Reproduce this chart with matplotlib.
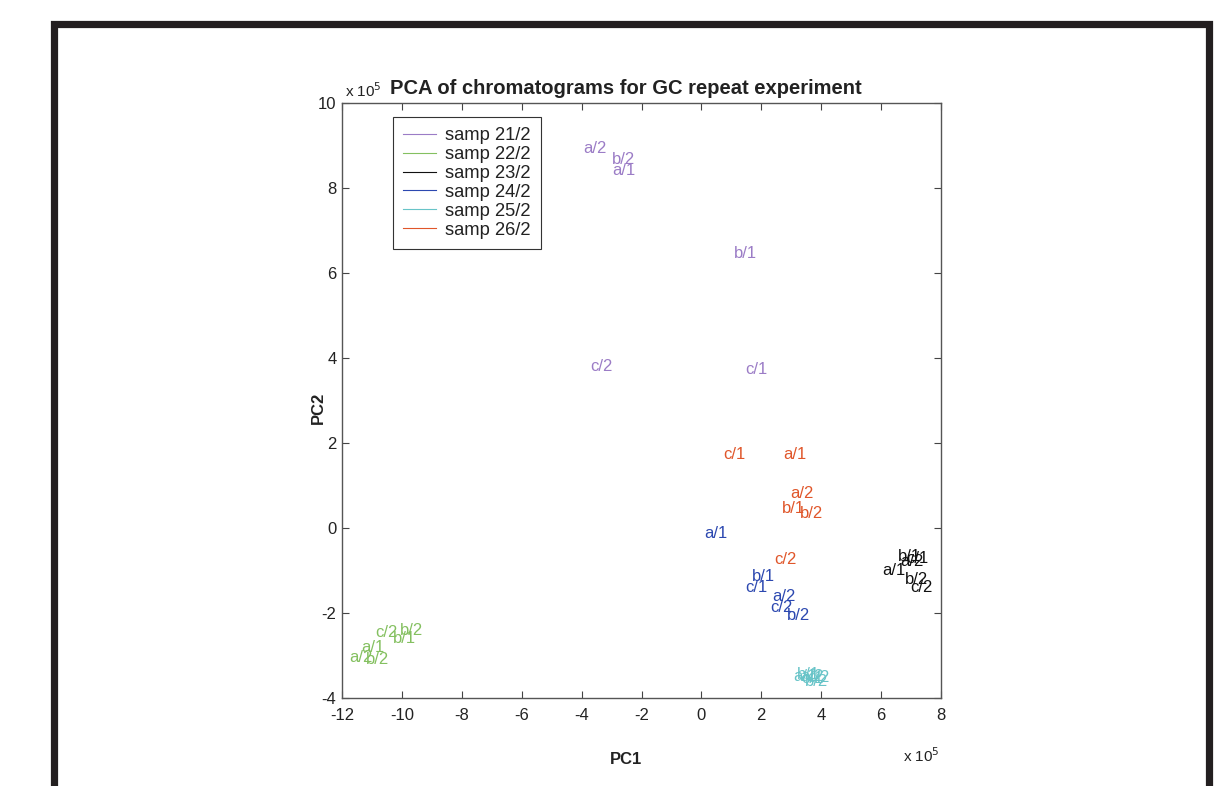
import matplotlib
matplotlib.use('Agg')
import matplotlib.pyplot as plt
from matplotlib.lines import Line2D
from matplotlib.patches import Rectangle

plt.rcParams['font.family'] = ['Liberation Sans', 'DejaVu Sans']
plt.rcParams['axes.unicode_minus'] = False

# legend entries / group colours
samples = ['samp 21/2', 'samp 22/2', 'samp 23/2', 'samp 24/2', 'samp 25/2', 'samp 26/2']
colors = ['#9b7cc6', '#84c060', '#111111', '#2c48b0', '#68c4c8', '#e0562a']

# label positions (PC1, PC2 in units of 1e5)
s21_labels = ['a/2', 'b/2', 'a/1', 'b/1', 'c/2', 'c/1']
s21_x = [-3.95, -2.98, -2.98, 1.09, -3.72, 1.46]
s21_y = [8.94, 8.66, 8.42, 6.47, 3.79, 3.74]

s22_labels = ['c/2', 'b/2', 'b/1', 'a/1', 'a/2', 'b/2']
s22_x = [-10.9, -10.05, -10.3, -11.35, -11.75, -11.2]
s22_y = [-2.45, -2.42, -2.6, -2.82, -3.05, -3.1]

s23_labels = ['a/1', 'b/1', 'a/2', 'c/1', 'b/2', 'c/2']
s23_x = [6.05, 6.56, 6.65, 6.85, 6.8, 6.97]
s23_y = [-1.0, -0.68, -0.8, -0.72, -1.22, -1.41]

s24_labels = ['a/1', 'b/1', 'c/1', 'a/2', 'c/2', 'b/2']
s24_x = [0.09, 1.69, 1.46, 2.36, 2.29, 2.86]
s24_y = [-0.14, -1.15, -1.41, -1.62, -1.88, -2.07]

s25_labels = ['a/1', 'b/1', 'c/1', 'a/2', 'b/2', 'c/2']
s25_x = [3.06, 3.2, 3.35, 3.3, 3.45, 3.55]
s25_y = [-3.5, -3.45, -3.55, -3.5, -3.6, -3.52]

s26_labels = ['c/1', 'a/1', 'a/2', 'b/1', 'b/2', 'c/2']
s26_x = [0.72, 2.72, 2.96, 2.69, 3.29, 2.42]
s26_y = [1.72, 1.72, 0.82, 0.47, 0.35, -0.75]

groups = [
    (s21_labels, s21_x, s21_y),
    (s22_labels, s22_x, s22_y),
    (s23_labels, s23_x, s23_y),
    (s24_labels, s24_x, s24_y),
    (s25_labels, s25_x, s25_y),
    (s26_labels, s26_x, s26_y),
]

xticks = list(range(-12, 9, 2))
yticks = list(range(-4, 11, 2))

fig = plt.figure(figsize=(12.28, 7.86), dpi=100)
ax = fig.add_axes([342 / 1228, 1 - 698 / 786, 599 / 1228, 595 / 786])

for (labels, xs, ys), col in zip(groups, colors):
    for lab, x, y in zip(labels, xs, ys):
        ax.text(x, y, lab, color=col, fontsize=12, ha='left', va='center')

ax.set_xlim(-12, 8)
ax.set_ylim(-4, 10)
ax.set_xticks(xticks)
ax.set_yticks(yticks)
ax.tick_params(direction='in', top=True, right=True, length=5, width=0.8,
               colors='#444444', labelsize=12, labelcolor='#222222')
ax.tick_params(axis='x', pad=7)
ax.tick_params(axis='y', pad=4)
for sp in ax.spines.values():
    sp.set_color('#555555')
    sp.set_linewidth(1.0)

ax.text(0.474, 1.009, 'PCA of chromatograms for GC repeat experiment', transform=ax.transAxes,
        ha='center', va='bottom', fontsize=14.5, fontweight='bold', color='#222222')
ax.text(0.474, -0.104, 'PC1', transform=ax.transAxes, ha='center', va='center',
        fontsize=12, fontweight='bold', color='#222222')
ax.text(-0.040, 0.487, 'PC2', transform=ax.transAxes, ha='center', va='center',
        rotation=90, fontsize=12, fontweight='bold', color='#222222')
ax.text(0.005, 1.005, r'x 10$^5$', transform=ax.transAxes, ha='left', va='bottom',
        fontsize=11, color='#222222')
ax.text(0.937, -0.097, r'x 10$^5$', transform=ax.transAxes, ha='left', va='center',
        fontsize=11, color='#222222')

handles = [Line2D([0], [0], color=c, lw=0.8) for c in colors]
leg = ax.legend(handles, samples, loc='upper left', bbox_to_anchor=(0.085, 0.976),
                borderaxespad=0, fontsize=13.2, labelspacing=0.1, handlelength=1.8,
                handletextpad=0.5, borderpad=0.55, fancybox=False, framealpha=1)
leg.get_frame().set_edgecolor('#333333')
leg.get_frame().set_linewidth(0.8)
for t in leg.get_texts():
    t.set_color('#222222')

# black frame around the page
frame = Rectangle((53.5 / 1228, -0.05), (1208.5 - 53.5) / 1228, 1.05 - 24 / 786,
                  transform=fig.transFigure, fill=False, edgecolor='#231f20', lw=5.2)
fig.patches.append(frame)

fig.savefig('out.png', dpi=100)
